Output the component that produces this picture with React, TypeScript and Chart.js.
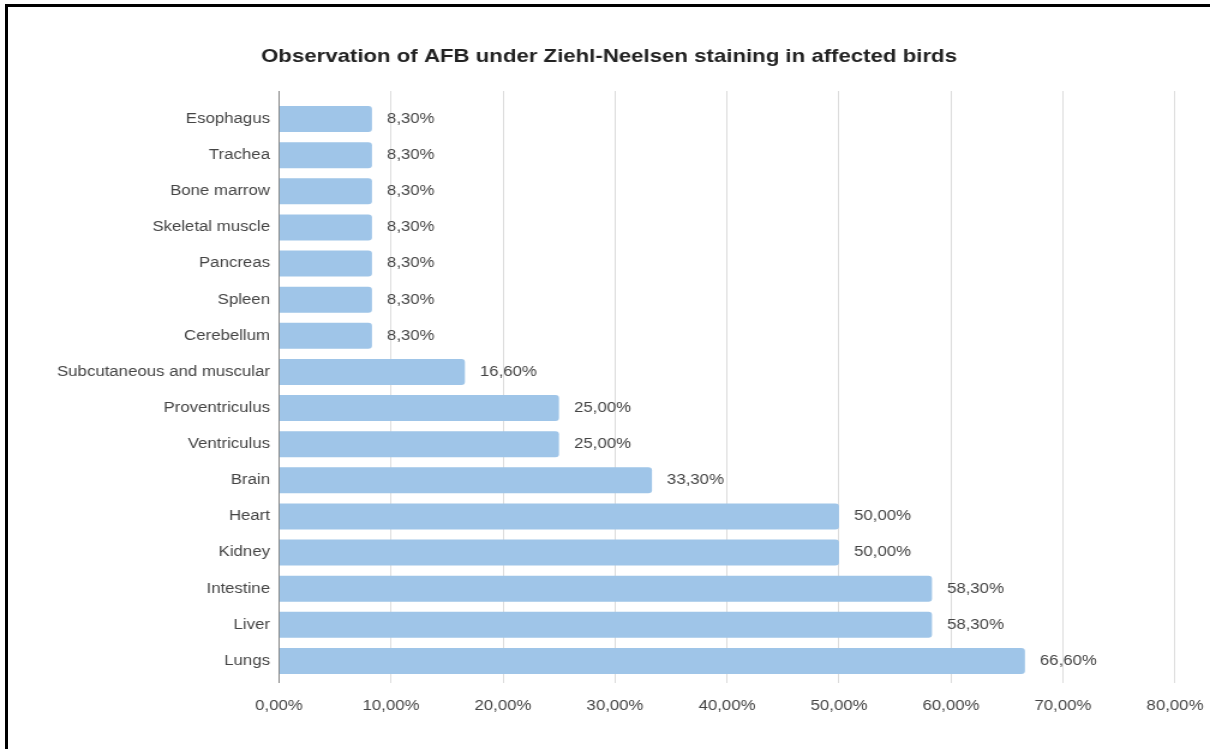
import React, { useEffect, useRef } from "react";
import { Chart, registerables } from "chart.js";

Chart.register(...registerables);

const categories: string[] = [
  "Esophagus",
  "Trachea",
  "Bone marrow",
  "Skeletal muscle",
  "Pancreas",
  "Spleen",
  "Cerebellum",
  "Subcutaneous and muscular",
  "Proventriculus",
  "Ventriculus",
  "Brain",
  "Heart",
  "Kidney",
  "Intestine",
  "Liver",
  "Lungs",
];

const values: number[] = [8.3, 8.3, 8.3, 8.3, 8.3, 8.3, 8.3, 16.6, 25, 25, 33.3, 50, 50, 58.3, 58.3, 66.6];

const xTicks: number[] = [0, 10, 20, 30, 40, 50, 60, 70, 80];

const titleText = "Observation of AFB under Ziehl-Neelsen staining in affected birds";

const FONT = "'Liberation Sans', Arial, sans-serif";

// the reference text is horizontally stretched; draw narrower and stretch the canvas
const W = 1008;
const H = 749;
const STRETCH = 1210 / W;

const PAD_RIGHT = W - 1175 / STRETCH;
const TITLE_CENTER = 609 / STRETCH;
const PAD_LEFT = 2 * TITLE_CENTER - W + PAD_RIGHT;
const AXIS_LEFT = 279 / STRETCH;

const fmt = (v: number) => v.toFixed(2).replace(".", ",") + "%";

const valueLabels = {
  id: "valueLabels",
  afterDatasetsDraw(chart: any) {
    const ctx = chart.ctx;
    const meta = chart.getDatasetMeta(0);
    ctx.save();
    ctx.font = `14px ${FONT}`;
    ctx.fillStyle = "#444";
    ctx.textAlign = "left";
    ctx.textBaseline = "middle";
    meta.data.forEach((bar: any, i: number) => {
      ctx.fillText(fmt(values[i]), bar.x + 12.5, bar.y);
    });
    ctx.restore();
  },
};

export default function App() {
  const ref = useRef<HTMLCanvasElement | null>(null);

  useEffect(() => {
    if (!ref.current) return;
    const chart = new Chart(ref.current, {
      type: "bar",
      data: {
        labels: categories,
        datasets: [
          {
            data: values,
            backgroundColor: "#9fc5e8",
            borderWidth: 0,
            borderRadius: 3,
            borderSkipped: "start",
            barPercentage: 0.72,
            categoryPercentage: 1,
            xAxisID: "x",
          },
        ],
      },
      options: {
        indexAxis: "y",
        responsive: false,
        animation: false,
        devicePixelRatio: 1,
        layout: { padding: { left: PAD_LEFT, right: PAD_RIGHT, top: 0, bottom: 0 } },
        plugins: {
          legend: { display: false },
          tooltip: { enabled: false },
          title: {
            display: true,
            text: titleText,
            color: "#222",
            font: { family: FONT, size: 18.5, weight: "bold" },
            padding: { top: 45.9, bottom: 10 },
          },
        },
        scales: {
          x: {
            type: "linear",
            position: "bottom",
            min: 0,
            max: 80,
            afterBuildTicks: (s: any) => {
              s.ticks = xTicks.map((v) => ({ value: v }));
            },
            afterFit: (s: any) => {
              s.height = 70;
              s.paddingLeft = 0;
              s.paddingRight = 0;
            },
            ticks: {
              color: "#444",
              font: { family: FONT, size: 14 },
              padding: 15,
              callback: (v: any) => fmt(Number(v)),
            },
            grid: {
              color: (c: any) => (c.index === 0 ? "#888" : "#dcdcdc"),
              tickColor: (c: any) => (c.index === 0 ? "#888" : "#dcdcdc"),
              tickLength: 4,
              lineWidth: 1,
            },
            border: { display: false },
          },
          x2: {
            type: "linear",
            position: "top",
            min: 0,
            max: 80,
            afterBuildTicks: (s: any) => {
              s.ticks = xTicks.map((v) => ({ value: v }));
            },
            afterFit: (s: any) => {
              s.height = 22.9;
              s.paddingLeft = 0;
              s.paddingRight = 0;
            },
            ticks: { display: false },
            grid: {
              drawOnChartArea: false,
              drawTicks: true,
              tickLength: 10,
              tickColor: (c: any) => (c.index === 0 ? "#888" : "#dcdcdc"),
            },
            border: { display: false },
          },
          y: {
            afterFit: (s: any) => {
              s.width = AXIS_LEFT - PAD_LEFT;
            },
            ticks: {
              color: "#444",
              font: { family: FONT, size: 14 },
              padding: 7.5,
            },
            grid: { display: false, drawTicks: false },
            border: { display: false },
          },
        },
      },
      plugins: [valueLabels],
    } as any);
    return () => chart.destroy();
  }, []);

  return (
    <div
      style={{
        position: "absolute",
        left: 0,
        top: 0,
        width: 1210,
        height: 749,
        overflow: "hidden",
        background: "#fff",
      }}
    >
      <div
        style={{
          position: "absolute",
          left: 5,
          top: 4,
          width: 1300,
          height: 900,
          borderTop: "3px solid #000",
          borderLeft: "3px solid #000",
        }}
      />
      <div
        style={{
          position: "absolute",
          left: 0,
          top: 0,
          width: W,
          height: H,
          transform: `scaleX(${STRETCH})`,
          transformOrigin: "0 0",
        }}
      >
        <canvas ref={ref} width={W} height={H} />
      </div>
    </div>
  );
}
